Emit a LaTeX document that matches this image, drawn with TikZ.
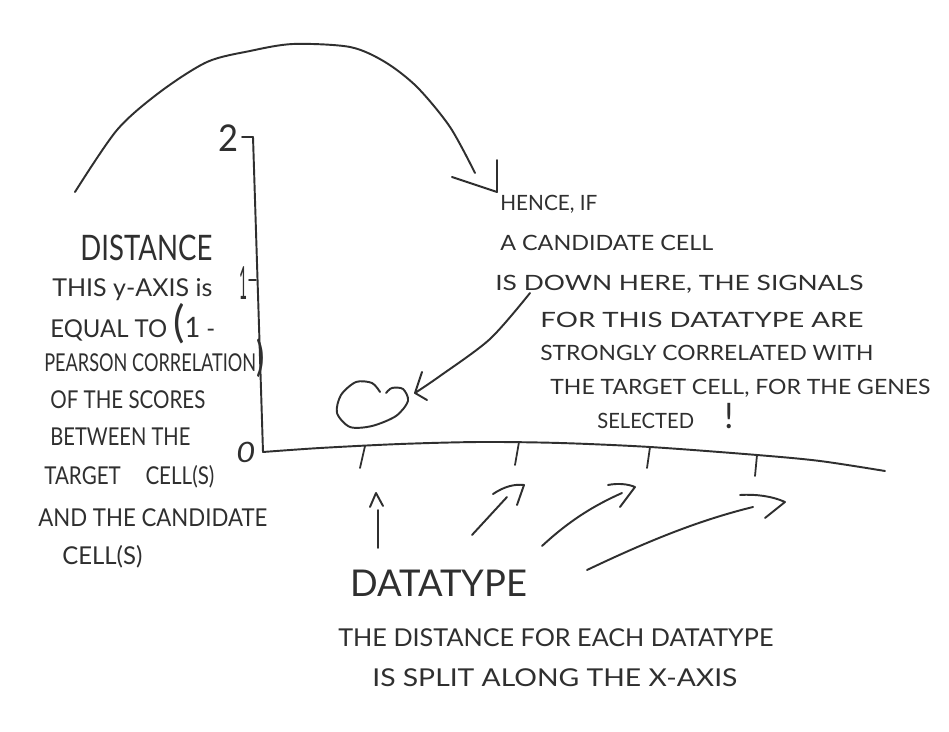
\documentclass[tikz,border=0pt]{standalone}
\usepackage{fontspec}
\usepackage{graphicx}
\setmainfont{Lato}
\definecolor{ink}{HTML}{2F2F2F}
\newlength\px \setlength\px{0.02cm}
\newcommand\handtxt[3]{\fontsize{#1}{#1}\selectfont\resizebox{#2\px}{\height}{#3}}
\newcommand\bigch[2]{{\fontsize{#1}{#1}\selectfont #2}}
\tikzset{
  lbl/.style={anchor=base west, inner sep=0pt, text=ink},
  pencil/.style={draw=ink, line width=1.1pt, line cap=round, line join=round},
  tickmark/.style={draw=ink, line width=1.0pt, line cap=round}
}
\begin{document}
\begin{tikzpicture}[x=0.02cm, y=-0.02cm]
\useasboundingbox[fill=white] (0,0) rectangle (949,732);

% ---------- axes ----------
\coordinate (ytop) at (253,137);
\coordinate (origin) at (263,452);
\coordinate (xend) at (885,471);
\draw[pencil] (ytop) -- (origin);
\draw[pencil] plot[smooth] coordinates {(263,452) (320,448) (400,444) (480,442) (560,443) (650,447) (757,455) (820,461) (xend)};
\draw[tickmark] (242,137) -- (ytop);
\draw[tickmark] (249,280) -- (256,280);
\node[lbl] (ltwo) at (218,152) {\handtxt{21}{20}{2}};
\node[lbl] (lone) at (239,300) {\handtxt{26}{8}{1}};
\node[lbl] (lzero) at (236,463) {\handtxt{16}{19}{\textit{0}}};

% x ticks
\draw[tickmark] (365,446) -- (360,468);
\draw[tickmark] (519,442) -- (515,465);
\draw[tickmark] (650,447) -- (647,468);
\draw[tickmark] (757,455) -- (755,476);

% ---------- left labels ----------
\node[lbl] (distance) at (80,260.5) {\handtxt{20}{132}{DISTANCE}};
\node[lbl] (l1) at (52,297) {\handtxt{14}{160}{THIS y-AXIS is}};
\node[lbl] (l2) at (50,338) {\handtxt{14}{165}{EQUAL TO \bigch{25}{(}\bigch{16}{1} -}};
\node[lbl] (l3) at (44,372) {\handtxt{14}{220}{PEARSON CORRELATION\bigch{24}{)}}};
\node[lbl] (l4) at (50,409) {\handtxt{14}{155}{OF THE SCORES}};
\node[lbl] (l5) at (50,446) {\handtxt{14}{140}{BETWEEN THE}};
\node[lbl] (l6) at (44,484) {\handtxt{14}{170}{TARGET\hspace{1.2em}CELL(S)}};
\node[lbl] (l7) at (38,526) {\handtxt{14}{229}{AND THE CANDIDATE}};
\node[lbl] (l8) at (62,564) {\handtxt{14}{80}{CELL(S)}};

% ---------- right labels ----------
\node[lbl] (r1) at (500,210.5) {\handtxt{12}{97}{HENCE, IF}};
\node[lbl] (r2) at (500,250.5) {\handtxt{12}{213}{A CANDIDATE CELL}};
\node[lbl] (r3) at (495,290.5) {\handtxt{12}{368}{IS DOWN HERE, THE SIGNALS}};
\node[lbl] (r4) at (540,327.5) {\handtxt{12}{323}{FOR THIS DATATYPE ARE}};
\node[lbl] (r5) at (540,360.5) {\handtxt{12}{333}{STRONGLY CORRELATED WITH}};
\node[lbl] (r6) at (550,394.5) {\handtxt{12}{380}{THE TARGET CELL, FOR THE GENES}};
\node[lbl] (r7) at (597,429) {\handtxt{12}{136}{SELECTED\hspace{1.5em}\bigch{20}{!}}};

% ---------- bottom labels ----------
\node[lbl] (datatype) at (350,596.5) {\handtxt{21}{177}{DATATYPE}};
\node[lbl] (b1) at (338,646) {\handtxt{14}{435}{THE DISTANCE FOR EACH DATATYPE}};
\node[lbl] (b2) at (372,686) {\handtxt{14}{365}{IS SPLIT ALONG THE X-AXIS}};

% ---------- big arc from DISTANCE to HENCE ----------
\coordinate (arcstart) at (75,192);
\coordinate (arctip) at (497,192);
\draw[pencil] plot[smooth] coordinates {(arcstart) (117,130) (160,92) (207,62) (250,51) (293,44) (350,47) (385,62) (417,87) (450,127) (475,173)};
\draw[pencil] (452,177) -- (arctip) -- (497,160);

% ---------- candidate cell blob and arrow ----------
\draw[pencil] plot[smooth] coordinates {(380,392) (372,383) (356,382) (341,395) (337,413) (350,427) (372,426) (396,416) (408,401) (403,389) (392,388) (386,393)};
\coordinate (blobtip) at (415,393);
\coordinate (blobfrom) at (530,293);
\draw[pencil] plot[smooth] coordinates {(blobfrom) (490,339) (440,376) (blobtip)};
\draw[pencil] (422,372) -- (blobtip) -- (427,400);

% ---------- datatype arrows ----------
\coordinate (a1t) at (376,493);
\draw[pencil] (378,548) -- (378,510);
\draw[pencil] (370,507) -- (a1t) -- (383,506);

\coordinate (a2t) at (524,485);
\draw[pencil] (472,535) -- (507,497);
\draw[pencil] (493,494) .. controls (505,486) and (515,484) .. (a2t) -- (517,505);

\coordinate (a3t) at (635,487);
\draw[pencil] (542,546) .. controls (570,520) and (595,505) .. (622,493);
\draw[pencil] (608,485) .. controls (618,483) and (628,484) .. (a3t) -- (620,507);

\coordinate (a4t) at (785,502);
\draw[pencil] (587,570) .. controls (650,540) and (700,520) .. (753,507);
\draw[pencil] (740,495) .. controls (755,494) and (772,496) .. (a4t) -- (765,518);
\end{tikzpicture}
\end{document}
